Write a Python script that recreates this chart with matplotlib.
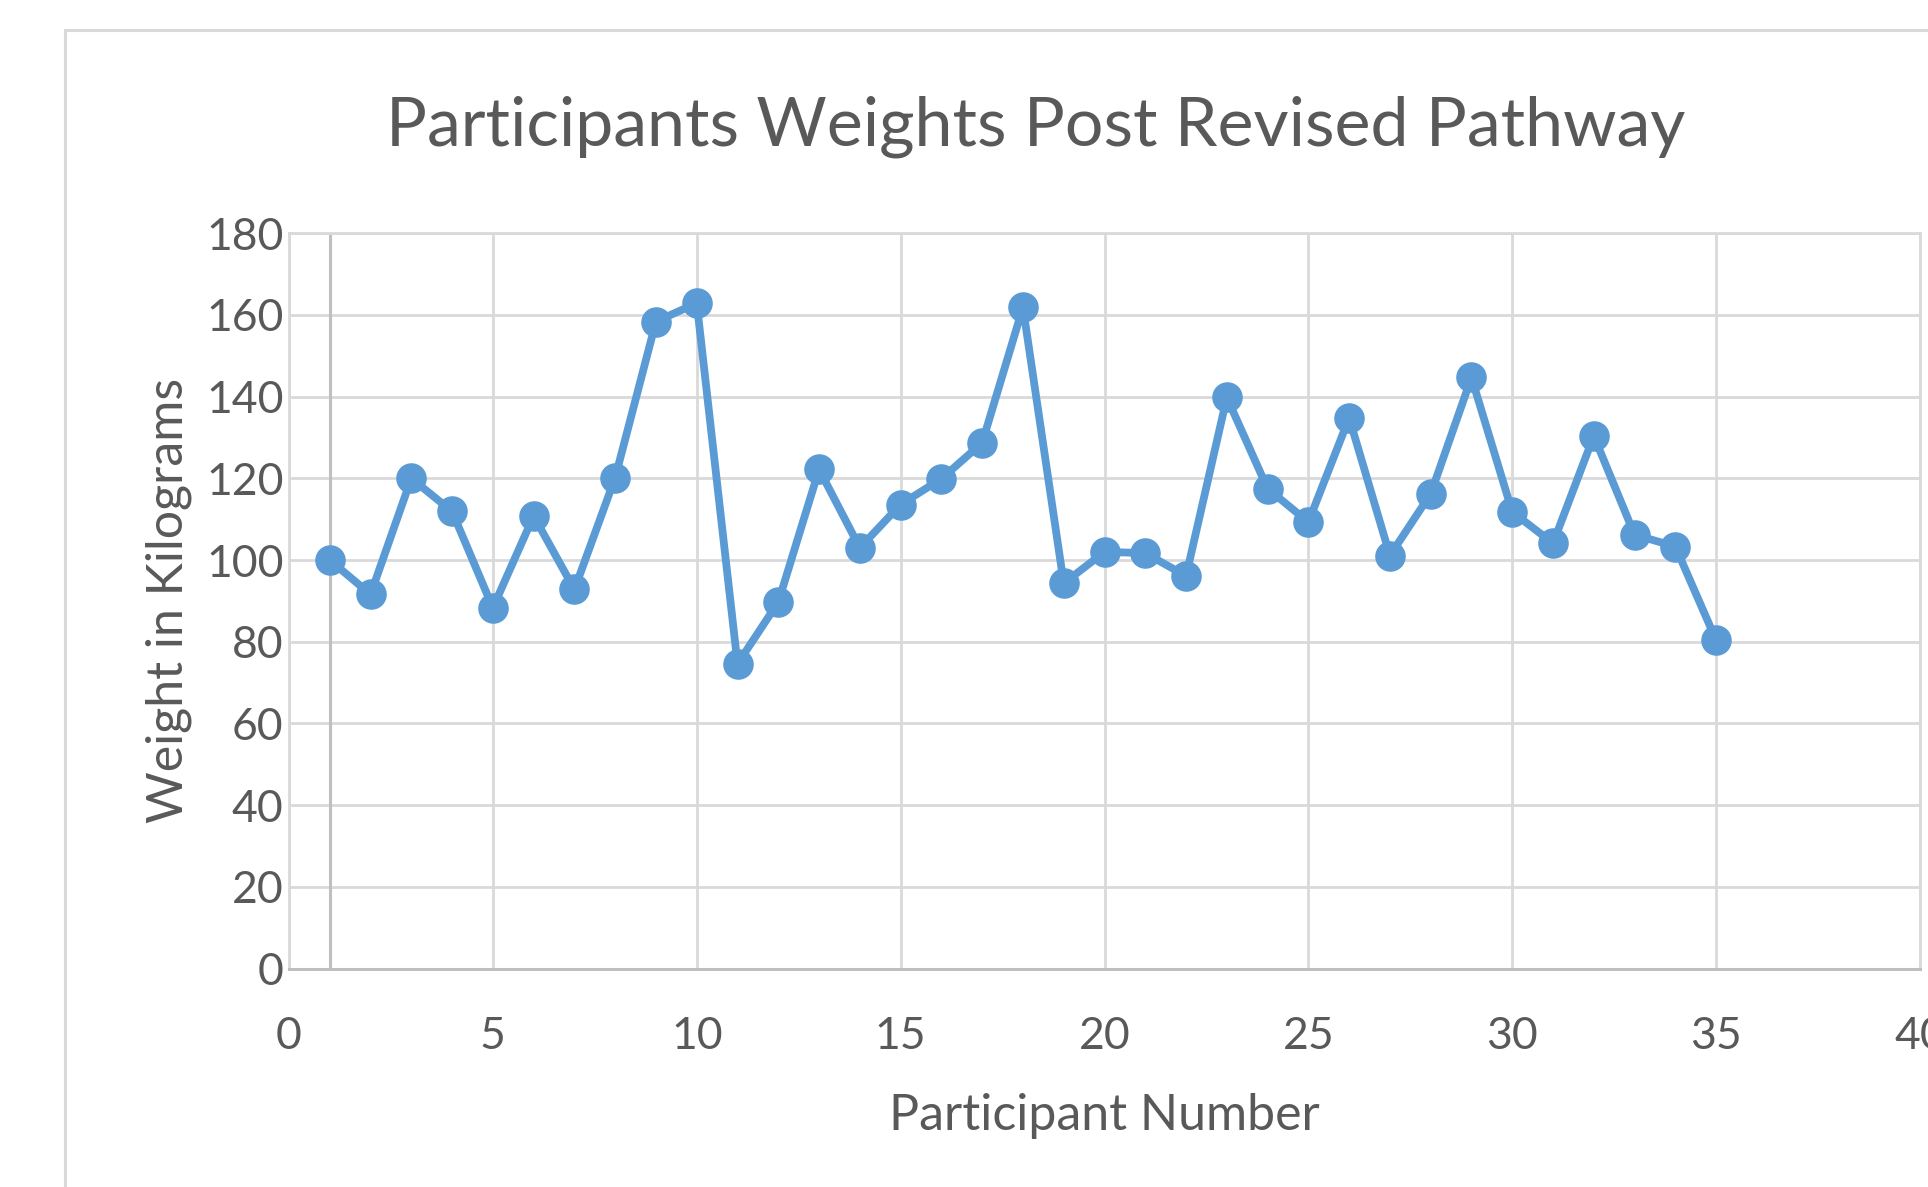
import matplotlib.pyplot as plt
from matplotlib.patches import Rectangle

# participant number vs. weight (kg)
participant = list(range(1, 36))
weight_kg = [100.0, 91.6, 120.0, 111.9, 88.3, 110.8, 92.8, 120.2, 158.4, 162.9,
             74.6, 89.7, 122.2, 103.0, 113.6, 119.9, 128.7, 161.9, 94.3, 102.0,
             101.7, 96.1, 139.8, 117.5, 109.3, 134.8, 101.1, 116.2, 144.7, 111.8,
             104.1, 130.4, 106.2, 103.3, 80.4]

x_ticks = [0, 5, 10, 15, 20, 25, 30, 35, 40]
y_ticks = [0, 20, 40, 60, 80, 100, 120, 140, 160, 180]

TEXT = '#595959'
GRID = '#d9d9d9'
LINE = '#5b9bd5'

plt.rcParams['font.family'] = ['Lato', 'DejaVu Sans']

W, H = 1928, 1187
fig = plt.figure(figsize=(W / 100, H / 100), dpi=100)

# chart area border (runs off the right/bottom of the image)
fig.patches.append(Rectangle((65 / W, -0.1), 1.2, 1 - 30 / H + 0.1,
                             transform=fig.transFigure, fill=False,
                             edgecolor=GRID, lw=2.2))

ax = fig.add_axes([289 / W, 1 - 968.5 / H, (1920 - 289) / W, (968.5 - 233.3) / H])
ax.plot(participant, weight_kg, color=LINE, lw=5.6, marker='o', markersize=21,
        markerfacecolor=LINE, markeredgecolor=LINE, zorder=3, clip_on=False)

ax.set_xlim(0, 40)
ax.set_ylim(0, 180)
ax.set_xticks(x_ticks)
ax.set_yticks(y_ticks)
ax.grid(True, color=GRID, lw=2.0)
ax.set_axisbelow(True)
ax.axvline(1, color='#bfbfbf', lw=2.2, zorder=1)

for side in ['top', 'left', 'right']:
    ax.spines[side].set_color(GRID)
    ax.spines[side].set_linewidth(2.0)
ax.spines['bottom'].set_color('#bfbfbf')
ax.spines['bottom'].set_linewidth(2.2)

ax.tick_params(axis='both', length=0, labelsize=32, labelcolor=TEXT)
ax.tick_params(axis='x', pad=34)
ax.tick_params(axis='y', pad=4)

ax.set_xlabel('Participant Number', fontsize=36, color=TEXT, labelpad=26)
ax.set_ylabel('Weight in Kilograms', fontsize=36, color=TEXT, labelpad=10)

fig.text(1036 / W, 1 - 145 / H, 'Participants Weights Post Revised Pathway',
         ha='center', va='baseline', fontsize=49, color=TEXT)

fig.savefig('out.png', dpi=100)
